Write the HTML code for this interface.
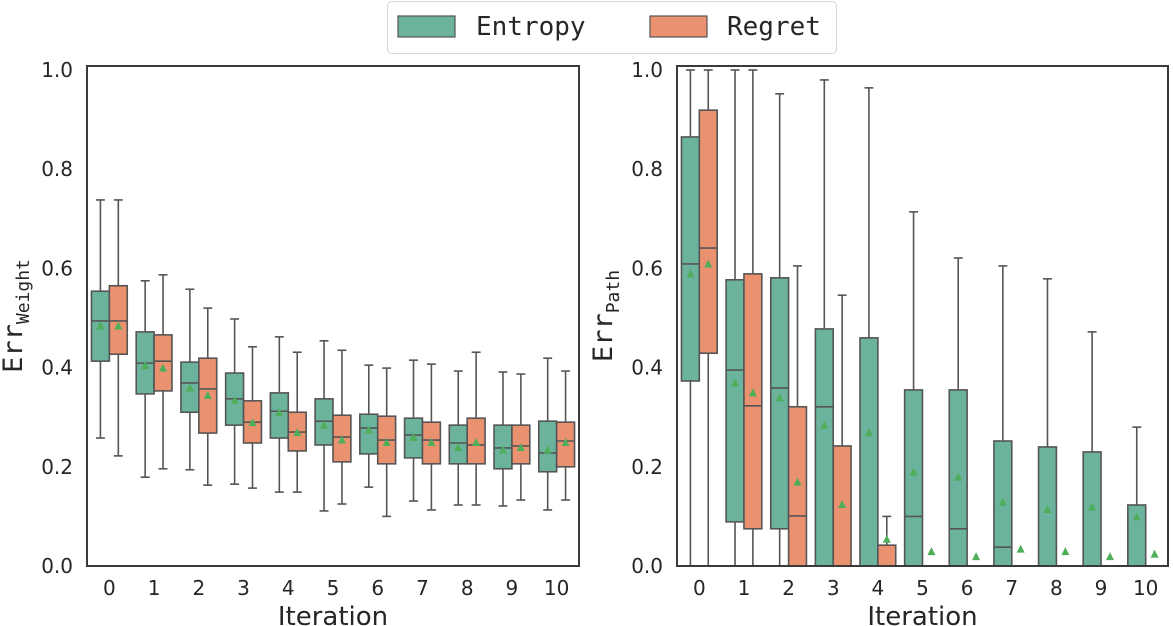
<!DOCTYPE html>
<html><head><meta charset="utf-8"><style>
body{margin:0;background:#fff;width:1173px;height:626px;overflow:hidden}
svg{display:block}
text{font-family:"DejaVu Sans","Liberation Sans",sans-serif;fill:#262626}
.mono{font-family:"DejaVu Sans Mono","Liberation Mono",monospace}
</style></head><body>
<svg id="chart" width="1173" height="626"></svg>
<script>
const categories=["0","1","2","3","4","5","6","7","8","9","10"];
const yTicks=[0,0.2,0.4,0.6,0.8,1.0];
// [low, q1, median, q3, high, mean]
const weightEntropy=[[.258,.413,.494,.554,.738,.485],[.179,.347,.409,.472,.575,.405],[.194,.31,.369,.411,.558,.36],[.165,.284,.337,.389,.498,.335],[.149,.258,.312,.349,.462,.31],[.111,.244,.292,.337,.454,.285],[.159,.226,.278,.306,.405,.275],[.131,.218,.264,.298,.415,.26],[.123,.206,.248,.284,.393,.24],[.121,.196,.238,.284,.391,.235],[.113,.19,.228,.292,.419,.235]];
const weightRegret=[[.222,.427,.494,.565,.738,.485],[.196,.353,.413,.466,.587,.40],[.163,.268,.357,.419,.52,.345],[.157,.248,.29,.333,.442,.29],[.149,.232,.27,.31,.431,.27],[.125,.21,.26,.304,.435,.255],[.1,.206,.254,.302,.399,.25],[.113,.206,.254,.29,.407,.25],[.123,.206,.244,.298,.431,.25],[.133,.206,.242,.284,.387,.24],[.133,.2,.252,.29,.393,.25]];
const pathEntropy=[[0,.373,.609,.865,1,.59],[0,.089,.395,.577,1,.37],[0,.075,.359,.581,.952,.34],[0,0,.321,.478,.98,.285],[0,0,0,.46,.964,.27],[0,0,.1,.355,.714,.19],[0,0,.075,.355,.621,.18],[0,0,.038,.252,.605,.13],[0,0,0,.24,.579,.115],[0,0,0,.23,.472,.12],[0,0,0,.123,.28,.1]];
const pathRegret=[[0,.429,.641,.919,1,.61],[0,.075,.323,.589,1,.35],[0,0,.101,.321,.605,.17],[0,0,0,.242,.546,.125],[0,0,0,.042,.1,.055],[0,0,0,0,0,.03],[0,0,0,0,0,.02],[0,0,0,0,0,.035],[0,0,0,0,0,.03],[0,0,0,0,0,.02],[0,0,0,0,0,.025]];

const NS="http://www.w3.org/2000/svg";
const svg=document.getElementById('chart');
function mk(tag,attrs,parent,txt){const e=document.createElementNS(NS,tag);for(const k in attrs)e.setAttribute(k,attrs[k]);if(txt!==undefined)e.textContent=txt;(parent||svg).appendChild(e);return e;}
const GREEN="#6bb39c",ORANGE="#ea9170",EDGE="#555555",MEAN="#4fae5a";
function panel(x0,x1,label,sub,ent,reg,name){
  const yT=66,yB=566;
  const yS=v=>566-496*v;
  const bw=(x1-x0)/categories.length;
  const xS=i=>x0+bw*(i+0.5);
  const g=mk('g',{});
  
  
  yTicks.forEach(t=>{
    const tl=mk('text',{x:x0-14,y:yS(t)+7,'text-anchor':'end','font-size':20},g,t.toFixed(1));
    
    
  });
  categories.forEach((c,i)=>{
    const tl=mk('text',{x:xS(i),y:yB+29,'text-anchor':'middle','font-size':20},g,c);
    
    
  });
  const half=bw*0.4;
  [[ent,GREEN,-1,'entropy'],[reg,ORANGE,0,'regret']].forEach(([data,col,off,sn])=>{
    data.forEach((d,i)=>{
      const bx=xS(i)+off*half, cx=bx+half/2;
      const [lo,q1,md,q3,hi,mn]=d;
      const bg=mk('g',{},g);
      
      
      mk('line',{x1:cx,x2:cx,y1:yS(hi),y2:yS(q3),stroke:EDGE,'stroke-width':1.6},bg);
      mk('line',{x1:cx,x2:cx,y1:yS(q1),y2:yS(lo),stroke:EDGE,'stroke-width':1.6},bg);
      mk('line',{x1:cx-half/4,x2:cx+half/4,y1:yS(hi),y2:yS(hi),stroke:EDGE,'stroke-width':1.6},bg);
      mk('line',{x1:cx-half/4,x2:cx+half/4,y1:yS(lo),y2:yS(lo),stroke:EDGE,'stroke-width':1.6},bg);
      if(q3>q1) mk('rect',{x:bx,y:yS(q3),width:half,height:yS(q1)-yS(q3),fill:col,stroke:EDGE,'stroke-width':1.6},bg);
      mk('line',{x1:bx,x2:bx+half,y1:yS(md),y2:yS(md),stroke:EDGE,'stroke-width':1.6},bg);
      const my=yS(mn);
      mk('polygon',{points:`${cx-4},${my+4} ${cx+4},${my+4} ${cx},${my-4}`,fill:MEAN},bg);
    });
  });
  const fr=mk('rect',{x:x0,y:yT,width:x1-x0,height:yB-yT,fill:'none',stroke:'#3a3a3a','stroke-width':2},g);
  
  
  const xl=mk('text',{x:(x0+x1)/2,y:625,'text-anchor':'middle','font-size':26},g,'Iteration');
  
  
  const yl=mk('text',{transform:`translate(${x0-65},${(yT+yB)/2}) rotate(-90)`,'text-anchor':'middle','font-size':27,class:'mono'},g);
  
  
  mk('tspan',{},yl,'Err');
  mk('tspan',{'font-size':18,dy:7},yl,sub);
}
panel(87,579,'Err','Weight',weightEntropy,weightRegret,'weight-panel');
panel(677,1168,'Err','Path',pathEntropy,pathRegret,'path-panel');
const lg=mk('g',{});


mk('rect',{x:387.5,y:1.5,width:449,height:52,rx:4,fill:'#fff',stroke:'#d6d6d6','stroke-width':1},lg);
const e1=mk('g',{},lg);


mk('rect',{x:398,y:16,width:57,height:21,fill:GREEN,stroke:EDGE,'stroke-width':1.2},e1);
mk('text',{x:476,y:35,'font-size':26,class:'mono'},e1,'Entropy');
const e2=mk('g',{},lg);


mk('rect',{x:650,y:16,width:57,height:21,fill:ORANGE,stroke:EDGE,'stroke-width':1.2},e2);
mk('text',{x:727,y:35,'font-size':26,class:'mono'},e2,'Regret');
</script>
</body></html>
